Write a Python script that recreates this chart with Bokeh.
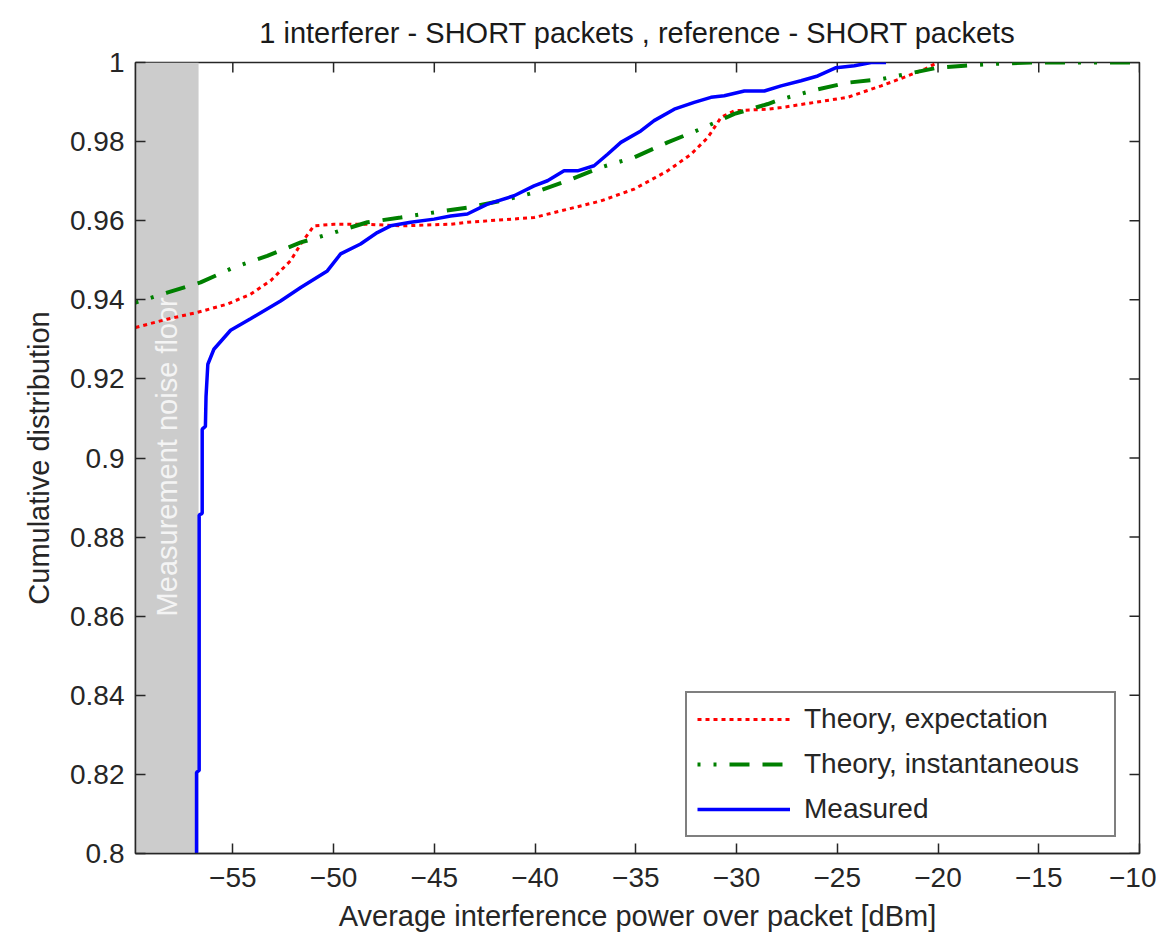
import math
from bokeh.plotting import figure
from bokeh.models import Range1d, FixedTicker, BoxAnnotation, Label, Legend, LegendItem
from bokeh.embed import file_html
from bokeh.resources import INLINE

# ---------------- data ----------------
title_text = "1 interferer - SHORT packets , reference - SHORT packets"
x_label = "Average interference power over packet [dBm]"
y_label = "Cumulative distribution"

x_min, x_max = -59.83, -10.0
y_min, y_max = 0.8, 1.0
noise_floor = -56.7

x_ticks = [-55, -50, -45, -40, -35, -30, -25, -20, -15, -10]
y_ticks = [0.8, 0.82, 0.84, 0.86, 0.88, 0.9, 0.92, 0.94, 0.96, 0.98, 1.0]
y_tick_labels = ["0.8", "0.82", "0.84", "0.86", "0.88", "0.9", "0.92", "0.94", "0.96", "0.98", "1"]

expect_x = [-59.83, -58.26, -56.77, -55.28, -54.12, -53.13, -52.13, -51.63, -50.98, -49.98,
            -48.32, -46.67, -44.19, -43.36, -40.05, -38.39, -36.73, -35.08, -33.42, -32.26,
            -31.43, -30.77, -30.11, -28.45, -27.79, -26.14, -24.48, -22.82, -21.50, -20.67,
            -20.18, -20.0]
expect_y = [0.9330, 0.9351, 0.9368, 0.9389, 0.9414, 0.9448, 0.9499, 0.9541, 0.9587, 0.9591,
            0.9591, 0.9587, 0.9591, 0.9596, 0.9608, 0.9629, 0.9650, 0.9680, 0.9726, 0.9768,
            0.9810, 0.9861, 0.9878, 0.9882, 0.9886, 0.9899, 0.9912, 0.9941, 0.9966, 0.9983,
            0.9996, 1.0]

inst_x = [-59.83, -58.26, -56.60, -54.95, -53.29, -51.63, -49.98, -48.32, -46.67, -45.01,
          -43.36, -41.70, -40.05, -38.39, -36.73, -35.08, -33.42, -31.77, -30.11, -28.45,
          -27.79, -26.14, -24.48, -22.82, -21.17, -20.0, -18.69, -17.03, -15.4, -10.0]
inst_y = [0.9393, 0.9418, 0.9444, 0.9482, 0.9511, 0.9545, 0.9570, 0.9596, 0.9608, 0.9621,
          0.9633, 0.9650, 0.9671, 0.9701, 0.9735, 0.9760, 0.9798, 0.9832, 0.9870, 0.9895,
          0.9907, 0.9930, 0.9949, 0.9958, 0.9975, 0.9987, 0.9992, 0.9997, 1.0, 1.0]

meas_x = [-56.80, -56.80, -56.67, -56.67, -56.52, -56.52, -56.36, -56.33, -56.24, -55.94,
          -55.11, -54.12, -52.63, -51.63, -50.31, -49.65, -48.66, -47.83, -47.17, -46.17,
          -45.01, -44.19, -43.36, -42.36, -41.04, -40.05, -39.38, -38.56, -37.89, -37.07,
          -36.40, -35.74, -34.75, -34.09, -33.09, -32.10, -31.27, -30.61, -29.61, -28.62,
          -27.79, -26.80, -25.97, -25.06, -24.15, -23.32, -22.58]
meas_y = [0.8000, 0.8205, 0.8210, 0.8856, 0.8860, 0.9073, 0.9080, 0.9155, 0.9237, 0.9275,
          0.9323, 0.9352, 0.9397, 0.9431, 0.9473, 0.9516, 0.9541, 0.9570, 0.9587, 0.9596,
          0.9604, 0.9612, 0.9617, 0.9642, 0.9663, 0.9688, 0.9701, 0.9726, 0.9726, 0.9739,
          0.9768, 0.9798, 0.9827, 0.9853, 0.9882, 0.9899, 0.9912, 0.9916, 0.9928, 0.9928,
          0.9941, 0.9954, 0.9966, 0.9987, 0.9992, 1.0, 1.0]

series_names = ["Theory, expectation", "Theory, instantaneous", "Measured"]

# ---------------- figure ----------------
FONT = "Liberation Sans"
TXT = "#262626"

p = figure(frame_width=1004, frame_height=791,
           min_border_left=135, min_border_right=17, min_border_top=62, min_border_bottom=88,
           x_range=Range1d(x_min, x_max), y_range=Range1d(y_min, y_max),
           output_backend="svg", toolbar_location=None,
           background_fill_color="white", border_fill_color="white")

p.title.text = title_text
p.title.text_font = FONT
p.title.text_font_size = "29px"
p.title.text_font_style = "normal"
p.title.text_color = "#1a1a1a"
p.title.align = "center"
p.title.standoff = 28

p.grid.visible = False
p.outline_line_color = TXT
p.outline_line_width = 1.5

for ax in (p.xaxis[0], p.yaxis[0]):
    ax.major_tick_in = 10
    ax.major_tick_out = 0
    ax.minor_tick_line_color = None
    ax.axis_line_color = TXT
    ax.axis_line_width = 1.5
    ax.major_tick_line_color = TXT
    ax.major_tick_line_width = 1.5
    ax.major_label_text_font = FONT
    ax.major_label_text_font_size = "28px"
    ax.major_label_text_color = TXT
    ax.axis_label_text_font = FONT
    ax.axis_label_text_font_size = "29px"
    ax.axis_label_text_font_style = "normal"
    ax.axis_label_text_color = TXT

p.xaxis.ticker = FixedTicker(ticks=x_ticks)
p.yaxis.ticker = FixedTicker(ticks=y_ticks)
p.yaxis.major_label_overrides = dict(zip(y_ticks, y_tick_labels))
p.xaxis.axis_label = x_label
p.yaxis.axis_label = y_label
p.xaxis.major_label_standoff = 14
p.yaxis.major_label_standoff = 11
p.xaxis.axis_label_standoff = 10
p.yaxis.axis_label_standoff = 12

# measurement noise floor band
band = BoxAnnotation(right=noise_floor, fill_color="#cccccc", fill_alpha=1.0,
                     line_alpha=0, level="underlay")
p.add_layout(band)
p.add_layout(Label(x=(x_min + noise_floor) / 2, y=(y_min + y_max) / 2 + 0.0003,
                   text="Measurement noise floor", angle=90, angle_units="deg",
                   text_align="center", text_baseline="middle",
                   text_color="#f4f4f4", text_font=FONT, text_font_size="29px",
                   level="underlay"))

# mirrored inward ticks on the top and right edges of the box (clipped half-dashes)
p.scatter(x=x_ticks, y=[y_max] * len(x_ticks), marker="dash", angle=math.pi / 2,
          size=20, line_color=TXT, line_width=1.5)
p.scatter(x=[x_max] * len(y_ticks), y=y_ticks, marker="dash",
          size=20, line_color=TXT, line_width=1.5)

r_exp = p.line(expect_x, expect_y, line_color="#ff0000", line_width=3, line_dash="4 4")
r_inst = p.line(inst_x, inst_y, line_color="#008000", line_width=4,
                line_dash="3 13 3 13 20 13 20 13")
r_meas = p.line(meas_x, meas_y, line_color="#0000ff", line_width=3.5)

legend = Legend(items=[LegendItem(label=series_names[0], renderers=[r_exp]),
                       LegendItem(label=series_names[1], renderers=[r_inst]),
                       LegendItem(label=series_names[2], renderers=[r_meas])],
                location=(550, 16), orientation="vertical",
                glyph_width=93, glyph_height=32, label_height=32, label_width=300,
                label_standoff=14, spacing=13, padding=10, margin=0,
                label_text_font=FONT, label_text_font_size="28px", label_text_color=TXT,
                border_line_color="#000000", border_line_width=2,
                background_fill_color="white", background_fill_alpha=1.0)
p.add_layout(legend, "center")

open("out.html", "w").write(file_html(p, INLINE))
